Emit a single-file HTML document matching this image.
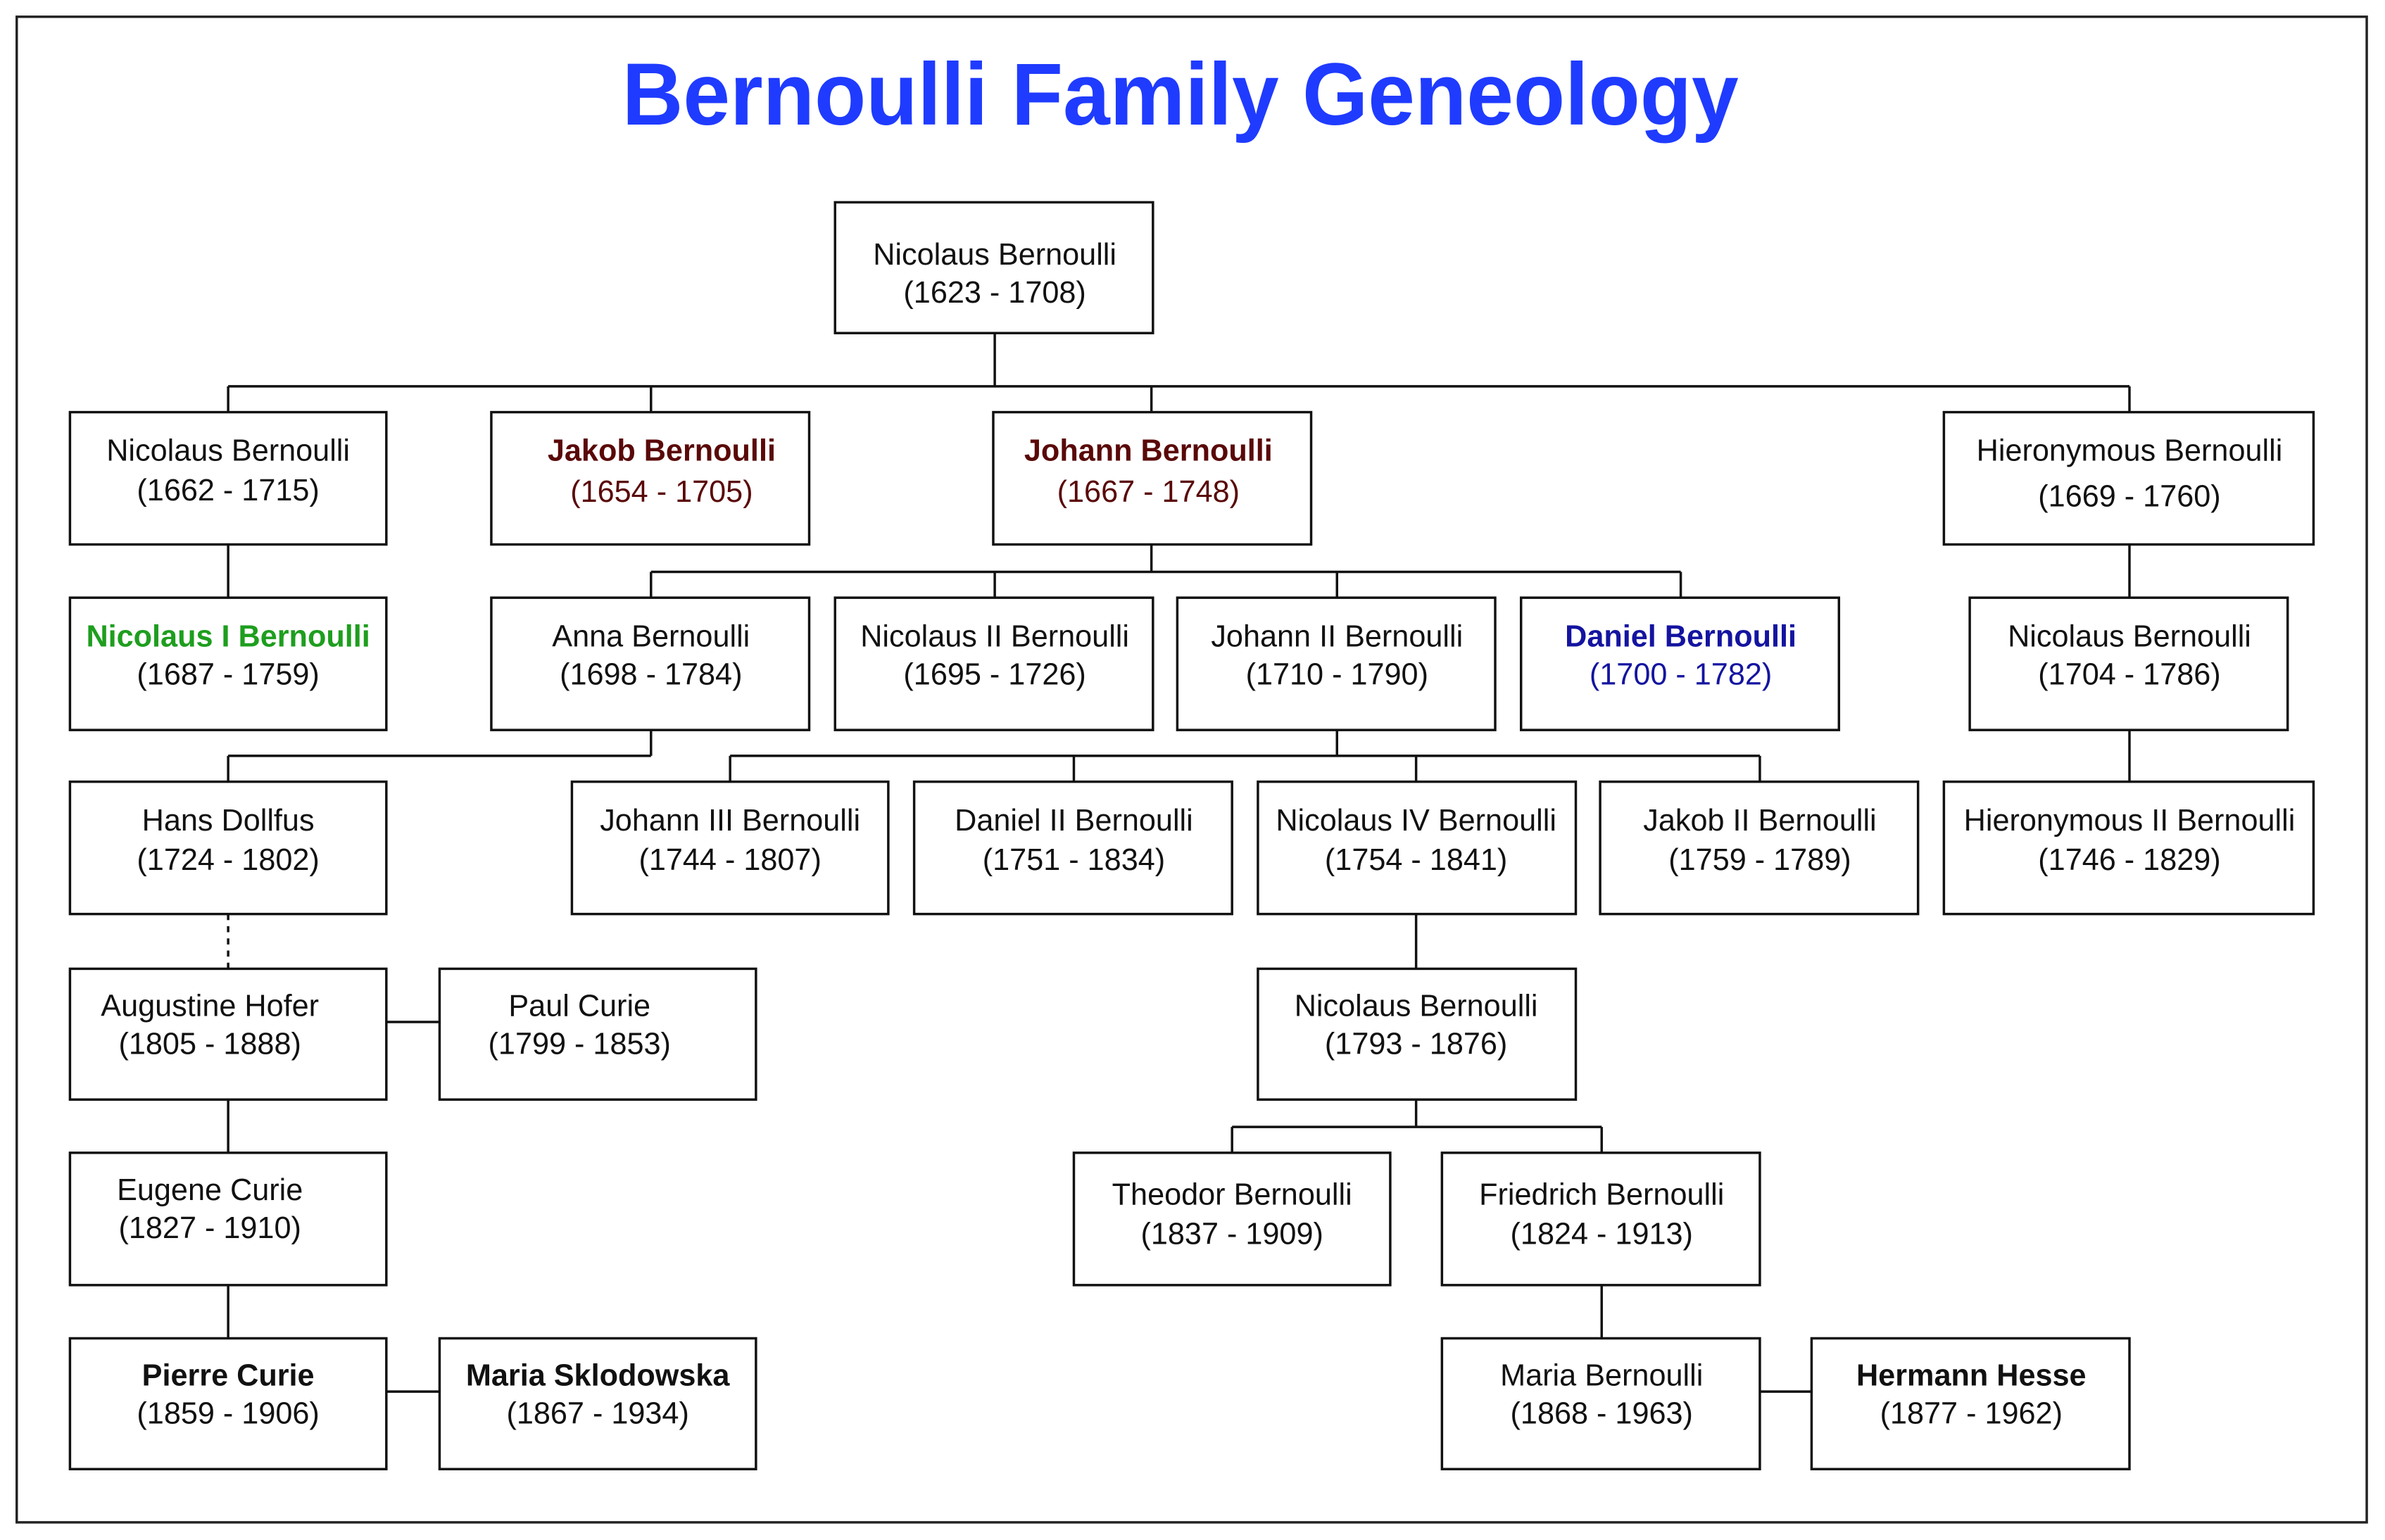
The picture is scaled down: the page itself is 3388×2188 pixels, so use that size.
<!DOCTYPE html>
<html><head><meta charset="utf-8"><style>
html,body{margin:0;padding:0;background:#fff;}
svg{display:block;}
text{font-family:"Liberation Sans",sans-serif;font-size:20px;text-anchor:middle;fill:#111;}
.b{font-weight:bold;}
.r{fill:#5a0808;}
.g{fill:#1e9e1e;}
.u{fill:#1414a0;}
</style></head><body>
<svg width="3388" height="2188" viewBox="0 0 1568 1012.6" xmlns="http://www.w3.org/2000/svg">
<rect x="0" y="0" width="1568" height="1012.6" fill="#fff"/>
<rect x="11" y="11" width="1545" height="990" fill="none" stroke="#222" stroke-width="1.6"/>
<text x="776" y="82" style="font-size:58px;font-weight:bold;fill:#1f3bff" textLength="734" lengthAdjust="spacingAndGlyphs">Bernoulli Family Geneology</text>
<g stroke="#111" stroke-width="1.6" fill="none">
<!-- boxes -->
<rect x="549" y="133" width="209" height="86"/>
<rect x="46" y="271" width="208" height="87"/>
<rect x="323" y="271" width="209" height="87"/>
<rect x="653" y="271" width="209" height="87"/>
<rect x="1278" y="271" width="243" height="87"/>
<rect x="46" y="393" width="208" height="87"/>
<rect x="323" y="393" width="209" height="87"/>
<rect x="549" y="393" width="209" height="87"/>
<rect x="774" y="393" width="209" height="87"/>
<rect x="1000" y="393" width="209" height="87"/>
<rect x="1295" y="393" width="209" height="87"/>
<rect x="46" y="514" width="208" height="87"/>
<rect x="376" y="514" width="208" height="87"/>
<rect x="601" y="514" width="209" height="87"/>
<rect x="827" y="514" width="209" height="87"/>
<rect x="1052" y="514" width="209" height="87"/>
<rect x="1278" y="514" width="243" height="87"/>
<rect x="46" y="637" width="208" height="86"/>
<rect x="289" y="637" width="208" height="86"/>
<rect x="827" y="637" width="209" height="86"/>
<rect x="46" y="758" width="208" height="87"/>
<rect x="706" y="758" width="208" height="87"/>
<rect x="948" y="758" width="209" height="87"/>
<rect x="46" y="880" width="208" height="86"/>
<rect x="289" y="880" width="208" height="86"/>
<rect x="948" y="880" width="209" height="86"/>
<rect x="1191" y="880" width="209" height="86"/>
<!-- connectors -->
<path d="M654 219V254M150 254H1400M150 254V271M428 254V271M757 254V271M1400 254V271"/>
<path d="M150 358V393M1400 358V393M757 358V376M428 376H1105M428 376V393M654 376V393M879 376V393M1105 376V393"/>
<path d="M428 480V497M150 497H428M150 497V514M879 480V497M480 497H1157M480 497V514M706 497V514M931 497V514M1157 497V514M1400 480V514"/>
<path d="M150 601V637" stroke-dasharray="4,4"/>
<path d="M931 601V637M254 672H289M150 723V758M931 723V741M810 741H1053M810 741V758M1053 741V758"/>
<path d="M150 845V880M1053 845V880M254 915H289M1157 915H1191"/>
</g>
<text x="654" y="174">Nicolaus Bernoulli</text><text x="654" y="199">(1623 - 1708)</text>
<text x="150" y="303">Nicolaus Bernoulli</text><text x="150" y="329">(1662 - 1715)</text>
<text x="435" y="303" class="b r">Jakob Bernoulli</text><text x="435" y="330" class="r">(1654 - 1705)</text>
<text x="755" y="303" class="b r">Johann Bernoulli</text><text x="755" y="330" class="r">(1667 - 1748)</text>
<text x="1400" y="303">Hieronymous Bernoulli</text><text x="1400" y="333">(1669 - 1760)</text>
<text x="150" y="425" class="b g">Nicolaus I Bernoulli</text><text x="150" y="450">(1687 - 1759)</text>
<text x="428" y="425">Anna Bernoulli</text><text x="428" y="450">(1698 - 1784)</text>
<text x="654" y="425">Nicolaus II Bernoulli</text><text x="654" y="450">(1695 - 1726)</text>
<text x="879" y="425">Johann II Bernoulli</text><text x="879" y="450">(1710 - 1790)</text>
<text x="1105" y="425" class="b u">Daniel Bernoulli</text><text x="1105" y="450" class="u">(1700 - 1782)</text>
<text x="1400" y="425">Nicolaus Bernoulli</text><text x="1400" y="450">(1704 - 1786)</text>
<text x="150" y="546">Hans Dollfus</text><text x="150" y="572">(1724 - 1802)</text>
<text x="480" y="546">Johann III Bernoulli</text><text x="480" y="572">(1744 - 1807)</text>
<text x="706" y="546">Daniel II Bernoulli</text><text x="706" y="572">(1751 - 1834)</text>
<text x="931" y="546">Nicolaus IV Bernoulli</text><text x="931" y="572">(1754 - 1841)</text>
<text x="1157" y="546">Jakob II Bernoulli</text><text x="1157" y="572">(1759 - 1789)</text>
<text x="1400" y="546">Hieronymous II Bernoulli</text><text x="1400" y="572">(1746 - 1829)</text>
<text x="138" y="668">Augustine Hofer</text><text x="138" y="693">(1805 - 1888)</text>
<text x="381" y="668">Paul Curie</text><text x="381" y="693">(1799 - 1853)</text>
<text x="931" y="668">Nicolaus Bernoulli</text><text x="931" y="693">(1793 - 1876)</text>
<text x="138" y="789">Eugene Curie</text><text x="138" y="814">(1827 - 1910)</text>
<text x="810" y="792">Theodor Bernoulli</text><text x="810" y="818">(1837 - 1909)</text>
<text x="1053" y="792">Friedrich Bernoulli</text><text x="1053" y="818">(1824 - 1913)</text>
<text x="150" y="911" class="b">Pierre Curie</text><text x="150" y="936">(1859 - 1906)</text>
<text x="393" y="911" class="b">Maria Sklodowska</text><text x="393" y="936">(1867 - 1934)</text>
<text x="1053" y="911">Maria Bernoulli</text><text x="1053" y="936">(1868 - 1963)</text>
<text x="1296" y="911" class="b">Hermann Hesse</text><text x="1296" y="936">(1877 - 1962)</text>
</svg>
</body></html>
